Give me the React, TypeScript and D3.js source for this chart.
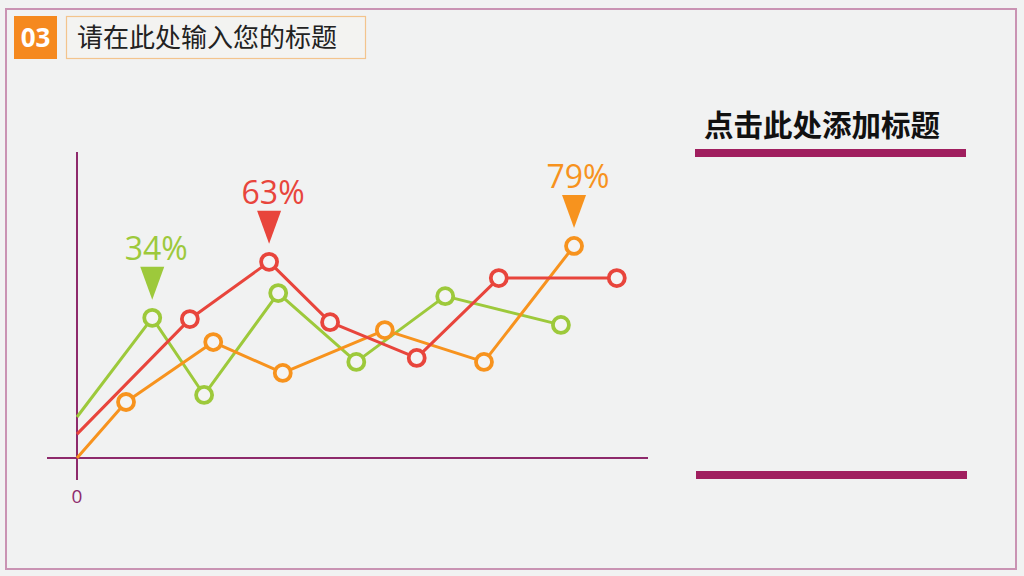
import React from "react";
import * as d3 from "d3";

// ---- data ----
const seriesNames = ["green", "red", "orange"];
const seriesColors = ["#9dc93b", "#e8453c", "#f7931e"];
const greenX = [0, 13.2, 22.3, 35.3, 49.0, 64.6, 84.9];
const greenY = [13.4, 45.8, 20.6, 53.9, 31.4, 52.9, 43.5];
const redX = [0, 19.8, 33.7, 44.4, 59.6, 74.0, 94.7];
const redY = [7.8, 45.4, 64.1, 44.4, 32.7, 58.8, 58.8];
const orangeX = [0, 8.6, 23.9, 36.1, 54.0, 71.4, 87.2];
const orangeY = [0, 18.3, 37.9, 27.8, 41.8, 31.4, 69.3];
const calloutSeries = [0, 1, 2];
const calloutIndex = [1, 2, 6];
const calloutLabels = ["34%", "63%", "79%"];
const axisZeroLabel = "0";
const headerNumber = "03";
const headerTitle = "请在此处输入您的标题";
const sideTitle = "点击此处添加标题";

const W = 1024;
const H = 576;

export default function App() {
  const x = d3.scaleLinear().domain([0, 100]).range([77, 647]);
  const y = d3.scaleLinear().domain([0, 100]).range([458, 152]);

  const xs = [greenX, redX, orangeX];
  const ys = [greenY, redY, orangeY];
  const series = seriesNames.map((name, s) => ({
    name,
    color: seriesColors[s],
    pts: xs[s].map((v, i) => [x(v), y(ys[s][i])] as [number, number]),
  }));

  const line = d3.line<[number, number]>();
  const drawOrder = [0, 2, 1];
  const axisColor = "#8e2a6c";
  const cjk = "'Noto Sans CJK SC', 'Noto Sans', sans-serif";

  return (
    <svg
      width={W}
      height={H}
      style={{ position: "absolute", left: 0, top: 0 }}
      xmlns="http://www.w3.org/2000/svg"
    >
      <rect x={0} y={0} width={W} height={H} fill="#f1f2f2" />
      <rect x={6} y={9} width={1010} height={560} fill="none" stroke="#c993b3" strokeWidth={2} />

      {/* header */}
      <rect x={14} y={16} width={43} height={43} fill="#f5891f" />
      <text x={35.5} y={47} textAnchor="middle" fill="#ffffff" fontFamily="'Open Sans', sans-serif" fontWeight={700} fontSize={26}>
        {headerNumber}
      </text>
      <rect x={66.5} y={16.5} width={299} height={42} fill="#f3f3f1" stroke="#f3c48d" strokeWidth={1.2} />
      <text x={77} y={47} fill="#222222" fontFamily={cjk} fontSize={26}>
        {headerTitle}
      </text>

      {/* right panel */}
      <text x={704} y={136} fill="#111111" fontFamily={cjk} fontWeight={700} fontSize={29.5}>
        {sideTitle}
      </text>
      <rect x={695} y={149} width={271} height={8} fill="#a01f5f" />
      <rect x={696} y={471} width={271} height={8} fill="#a01f5f" />

      {/* axes */}
      <line x1={x(0)} x2={x(0)} y1={y(100)} y2={y(0) + 22} stroke={axisColor} strokeWidth={2} />
      <line x1={x(0) - 30} x2={x(100) + 1} y1={y(0)} y2={y(0)} stroke={axisColor} strokeWidth={2} />
      <text x={x(0)} y={y(0) + 45} textAnchor="middle" fill={axisColor} fontFamily="'Open Sans', sans-serif" fontSize={19}>
        {axisZeroLabel}
      </text>

      {/* lines */}
      {drawOrder.map((s) => (
        <path key={"l" + s} d={line(series[s].pts) || ""} fill="none" stroke={series[s].color} strokeWidth={3} strokeLinejoin="round" />
      ))}
      {/* markers */}
      {drawOrder.map((s) =>
        series[s].pts.slice(1).map((p, i) => (
          <circle key={"m" + s + "-" + i} cx={p[0]} cy={p[1]} r={8} fill="#f4f4f4" stroke={series[s].color} strokeWidth={3.8} />
        ))
      )}

      {/* callouts */}
      {calloutLabels.map((lab, k) => {
        const s = calloutSeries[k];
        const p = series[s].pts[calloutIndex[k]];
        const apexY = p[1] - 18;
        const topY = apexY - 33;
        return (
          <g key={"c" + k}>
            <path d={`M${p[0] - 12},${topY} L${p[0] + 12},${topY} L${p[0]},${apexY} Z`} fill={series[s].color} />
            <text x={p[0] + 4} y={topY - 7} textAnchor="middle" fill={series[s].color} fontFamily="'Open Sans', sans-serif" fontSize={32}>
              {lab}
            </text>
          </g>
        );
      })}
    </svg>
  );
}
